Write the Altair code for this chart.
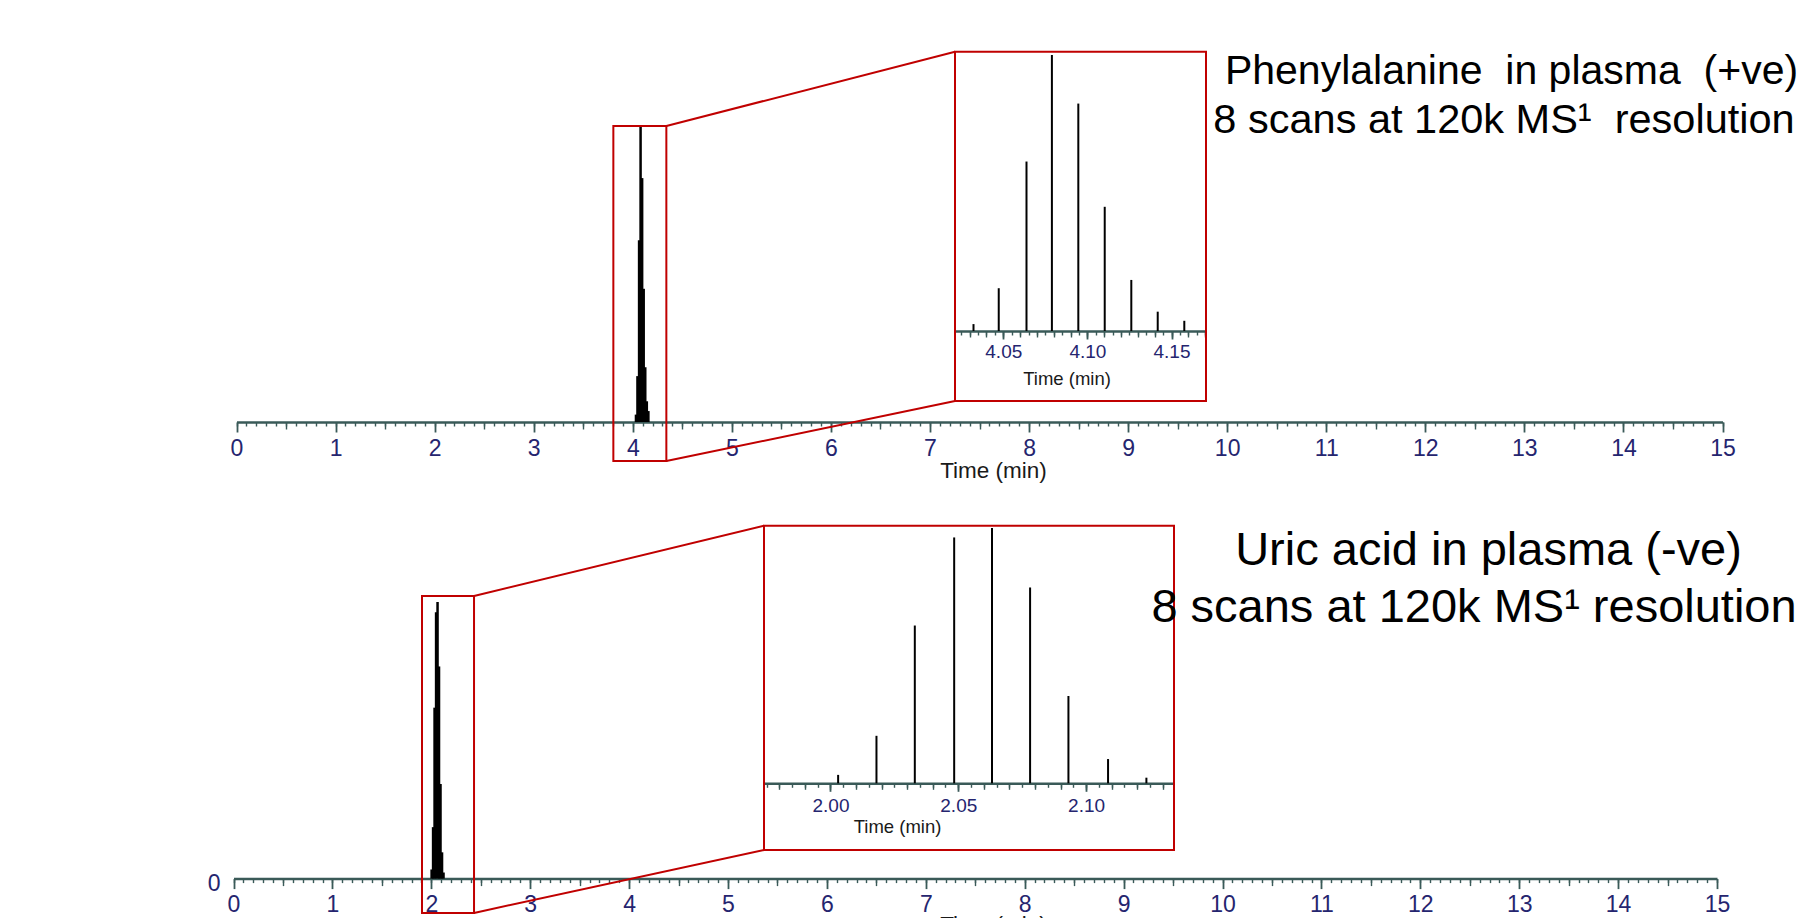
import altair as alt
import pandas as pd

# ---------------- data ----------------
# Phenylalanine in plasma (+ve): MS1 scans across the peak (time in min, relative intensity)
PHE_TIME = [4.0323, 4.0473, 4.0638, 4.0789, 4.0946, 4.1103, 4.1261, 4.1418, 4.1576]
PHE_INT = [0.025, 0.155, 0.614, 1.000, 0.824, 0.450, 0.185, 0.070, 0.037]

# Uric acid in plasma (-ve)
URIC_TIME = [2.0030, 2.0180, 2.0330, 2.0484, 2.0632, 2.0781, 2.0931, 2.1086, 2.1236]
URIC_INT = [0.033, 0.186, 0.618, 0.963, 1.000, 0.767, 0.342, 0.095, 0.022]

MAIN_TICKS = list(range(0, 16))
MAIN_MID_TICKS = [i + 0.5 for i in range(15)]
MAIN_MINOR_TICKS = [round(i * 0.1, 1) for i in range(151)]
PHE_ZOOM_TICKS = [4.05, 4.10, 4.15]
URIC_ZOOM_TICKS = [2.00, 2.05, 2.10]

PHE_TEXT = ["Phenylalanine\u00a0 in plasma\u00a0 (+ve)", "8 scans at 120k MS\u00b9\u00a0 resolution"]
URIC_TEXT = ["Uric acid in plasma (-ve)", "8 scans at 120k MS\u00b9 resolution"]
AXIS_TITLE = "Time (min)"

# highlighted windows: (time from, time to), (intensity from, intensity to)
PHE_MAIN_BOX = ([3.804, 4.339], [-0.132, 1.0])
PHE_ZOOM_BOX = ([4.0213, 4.1705], [-0.254, 1.0116])
URIC_MAIN_BOX = ([1.906, 2.432], [-0.124, 1.022])
URIC_ZOOM_BOX = ([1.974, 2.1344], [-0.261, 1.0086])

# ---------------- layout / style ----------------
W, H = 1790, 910
FONT = "Liberation Sans"
AX = "#3a5a58"
LAB = "#25256f"
RED = "#c00000"

TM = dict(xd=[0, 15], xr=[228.5, 1714.5], yd=[0, 1], yr=[414, 118])
TI = dict(xd=PHE_ZOOM_BOX[0], xr=[947, 1198], yd=[0, 1], yr=[323, 47])
BM = dict(xd=[0, 15], xr=[225.5, 1709], yd=[0, 1], yr=[870.6, 594])
BI = dict(xd=URIC_ZOOM_BOX[0], xr=[756, 1166], yd=[0, 1], yr=[775.3, 520])


def xs(p):
    return alt.Scale(domain=p["xd"], range=p["xr"], nice=False, zero=False)


def ys(p):
    return alt.Scale(domain=p["yd"], range=p["yr"], nice=False, zero=False)


def px_x(p, v):
    return p["xr"][0] + (v - p["xd"][0]) / (p["xd"][1] - p["xd"][0]) * (p["xr"][1] - p["xr"][0])


def px_y(p, v):
    return p["yr"][0] + (v - p["yd"][0]) / (p["yd"][1] - p["yd"][0]) * (p["yr"][1] - p["yr"][0])


def major_axis(p, values, fmt, lsize, tsize, lpad, tx, ty, tick=10):
    return alt.Axis(
        values=values, format=fmt, orient="bottom", offset=p["yr"][0] - H,
        domain=True, domainColor=AX, domainWidth=2.5,
        ticks=True, tickColor=AX, tickWidth=1.8, tickSize=tick,
        labelColor=LAB, labelFont=FONT, labelFontSize=lsize, labelBaseline="middle",
        labelPadding=lpad, labelFlush=False, labelOverlap=False,
        title=AXIS_TITLE, titleFont=FONT, titleFontSize=tsize, titleFontWeight="normal",
        titleColor="#1a1a1a", titleX=tx, titleY=ty, titleAlign="center",
        titleBaseline="middle", grid=False,
    )


def trace(p, t, i, sw, xaxis, yaxis=None):
    df = pd.DataFrame({"t": t, "i": i, "b": [0.0] * len(t)})
    return alt.Chart(df).mark_rule(color="black", strokeWidth=sw).encode(
        x=alt.X("t:Q", scale=xs(p), axis=xaxis),
        y=alt.Y("i:Q", scale=ys(p), axis=yaxis),
        y2="b:Q",
    )


def tick_layer(p, values, size, width=1.4):
    df = pd.DataFrame({"t": [p["xd"][0]]})
    return alt.Chart(df).mark_point(opacity=0).encode(
        x=alt.X("t:Q", scale=xs(p), axis=alt.Axis(
            values=values, labels=False, domain=False, ticks=True, tickSize=size,
            tickWidth=width, tickColor=AX, orient="bottom", offset=p["yr"][0] - H,
            title=None, grid=False)),
    )


def box(p, b):
    df = pd.DataFrame({"t1": [b[0][0]], "t2": [b[0][1]], "i1": [b[1][0]], "i2": [b[1][1]]})
    return alt.Chart(df).mark_rect(fill="transparent", stroke=RED, strokeWidth=2).encode(
        x=alt.X("t1:Q", scale=xs(p), axis=None), x2="t2:Q",
        y=alt.Y("i1:Q", scale=ys(p), axis=None), y2="i2:Q",
    )


def ticks_between(lo, hi, step):
    out = []
    k = int(lo / step) - 1
    while k * step <= hi + 1e-9:
        v = round(k * step, 4)
        if lo - 1e-9 <= v <= hi + 1e-9:
            out.append(v)
        k += 1
    return out


PX = alt.Scale(domain=[0, W], range=[0, W], nice=False, zero=False)
PY = alt.Scale(domain=[0, H], range=[0, H], nice=False, zero=False)

layers = []

# ---------- top: phenylalanine ----------
layers.append(trace(TM, PHE_TIME, PHE_INT, 2.5,
                    major_axis(TM, MAIN_TICKS, "d", 23, 22.5, 16, 985, 48)))
layers.append(tick_layer(TM, MAIN_MINOR_TICKS, 4))
layers.append(tick_layer(TM, MAIN_MID_TICKS, 7))
layers.append(box(TM, PHE_MAIN_BOX))

layers.append(trace(TI, PHE_TIME, PHE_INT, 2,
                    major_axis(TI, PHE_ZOOM_TICKS, ".2f", 19, 18.5, 12.5, 1058.5, 47, tick=8)))
layers.append(tick_layer(TI, ticks_between(*PHE_ZOOM_BOX[0], 0.005), 4))
layers.append(tick_layer(TI, ticks_between(*PHE_ZOOM_BOX[0], 0.01), 6))
layers.append(box(TI, PHE_ZOOM_BOX))

# ---------- bottom: uric acid ----------
zero_axis = alt.Axis(values=[0], orient="left", offset=-214, domain=False, ticks=False,
                     tickSize=0, labelPadding=2, labelFont=FONT, labelFontSize=23,
                     labelColor=LAB, labelOffset=5, title=None, grid=False)
layers.append(trace(BM, URIC_TIME, URIC_INT, 2.5,
                    major_axis(BM, MAIN_TICKS, "d", 23, 22.5, 15.5, 985, 46), zero_axis))
layers.append(tick_layer(BM, MAIN_MINOR_TICKS, 4))
layers.append(tick_layer(BM, MAIN_MID_TICKS, 7))
layers.append(box(BM, URIC_MAIN_BOX))

layers.append(trace(BI, URIC_TIME, URIC_INT, 2,
                    major_axis(BI, URIC_ZOOM_TICKS, ".2f", 19, 18.5, 14.5, 889, 43.5, tick=8)))
layers.append(tick_layer(BI, ticks_between(*URIC_ZOOM_BOX[0], 0.005), 4))
layers.append(tick_layer(BI, ticks_between(*URIC_ZOOM_BOX[0], 0.01), 6))
layers.append(box(BI, URIC_ZOOM_BOX))

# ---------- connector lines between windows and zoom panels ----------
conn = []
for (pm, bm, pz, bz) in [(TM, PHE_MAIN_BOX, TI, PHE_ZOOM_BOX), (BM, URIC_MAIN_BOX, BI, URIC_ZOOM_BOX)]:
    for k in (1, 0):
        conn.append({
            "x1": px_x(pm, bm[0][1]), "y1": px_y(pm, bm[1][k]),
            "x2": px_x(pz, bz[0][0]), "y2": px_y(pz, bz[1][k]),
        })
layers.append(alt.Chart(pd.DataFrame(conn)).mark_rule(color=RED, strokeWidth=2).encode(
    x=alt.X("x1:Q", scale=PX, axis=None), x2="x2:Q",
    y=alt.Y("y1:Q", scale=PY, axis=None), y2="y2:Q",
))

# ---------- panel annotations ----------
TEXT_POS = [(1503.5, 63.5, 41), (1496, 113, 41.5), (1480.5, 543, 47), (1466, 599.6, 47)]
txt = pd.DataFrame({
    "x": [p[0] for p in TEXT_POS], "y": [p[1] for p in TEXT_POS],
    "fs": [p[2] for p in TEXT_POS], "txt": PHE_TEXT + URIC_TEXT,
})
layers.append(alt.Chart(txt).mark_text(font=FONT, color="black", align="center",
                                        baseline="middle").encode(
    x=alt.X("x:Q", scale=PX, axis=None),
    y=alt.Y("y:Q", scale=PY, axis=None),
    text="txt:N",
    size=alt.Size("fs:Q", scale=None, legend=None),
))

chart = alt.layer(*layers).resolve_scale(
    x="independent", y="independent", size="independent"
).properties(
    width=W, height=H, padding=0, autosize=alt.AutoSizeParams(type="none")
).configure_view(strokeWidth=0)

chart.save("out.html", embed_options={"renderer": "svg", "actions": False})
